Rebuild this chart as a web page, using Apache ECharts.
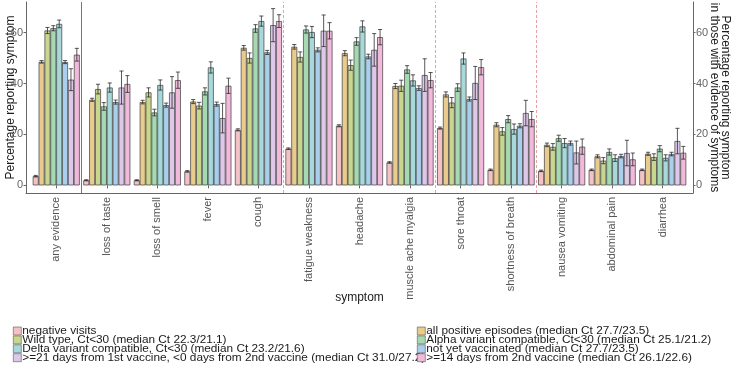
<!DOCTYPE html>
<html>
<head>
<meta charset="utf-8">
<script src="https://cdn.jsdelivr.net/npm/echarts@6/dist/echarts.min.js"></script>
<style>
  html, body { margin: 0; padding: 0; background: #fff; }
  #chart { width: 731px; height: 365px; }
</style>
</head>
<body>
<div id="chart"></div>
<script>
// 症状类别
const categories = ['any evidence', 'loss of taste', 'loss of smell', 'fever', 'cough',
  'fatigue weakness', 'headache', 'muscle ache myalgia', 'sore throat',
  'shortness of breath', 'nausea vomiting', 'abdominal pain', 'diarrhea']

// 图例名称（柱子从左到右的顺序）
const groupNames = [
  'negative visits',
  'all positive episodes (median Ct 27.7/23.5)',
  'Wild type, Ct<30 (median Ct 22.3/21.1)',
  'Alpha variant compatible, Ct<30 (median Ct 25.1/21.2)',
  'Delta variant compatible, Ct<30 (median Ct 23.2/21.6)',
  'not yet vaccinated (median Ct 27.7/23.5)',
  '>=21 days from 1st vaccine, <0 days from 2nd vaccine (median Ct 31.0/27.2)',
  '>=14 days from 2nd vaccine (median Ct 26.1/22.6)'
]

// 百分比数据
const negativeVisits = [3.6, 2.0, 2.0, 5.5, 21.8, 14.4, 23.4, 9.0, 22.5, 6.1, 5.7, 6.1, 6.1]
const allPositive = [48.5, 33.6, 32.7, 32.9, 54.0, 54.4, 51.9, 39.0, 35.7, 23.8, 15.9, 11.4, 12.4]
const wildType = [60.8, 37.8, 36.5, 31.3, 50.0, 50.4, 47.2, 39.1, 32.5, 21.2, 15.1, 9.7, 11.1]
const alphaVariant = [61.7, 31.0, 28.6, 36.9, 61.6, 61.2, 56.5, 45.5, 38.4, 26.0, 18.5, 13.1, 14.4]
const deltaVariant = [63.4, 38.4, 39.4, 46.3, 64.5, 60.2, 62.4, 41.2, 49.8, 22.1, 16.6, 10.7, 10.8]
const notVaccinated = [48.4, 32.7, 31.5, 31.9, 52.2, 53.2, 50.6, 38.2, 33.9, 23.4, 16.6, 11.5, 12.3]
const firstDose = [41.5, 38.4, 36.5, 26.4, 62.9, 60.7, 53.2, 43.3, 40.2, 28.4, 12.9, 12.7, 17.4]
const secondDose = [51.3, 39.8, 41.3, 39.1, 64.5, 60.7, 58.2, 41.3, 46.4, 26.0, 15.2, 10.2, 12.8]

// 误差棒半宽
const negativeErr = [0.3, 0.2, 0.2, 0.3, 0.4, 0.3, 0.4, 0.3, 0.4, 0.3, 0.3, 0.3, 0.3]
const allPositiveErr = [0.5, 0.6, 0.7, 0.8, 0.9, 0.9, 1.0, 1.0, 1.0, 0.8, 0.7, 0.6, 0.6]
const wildTypeErr = [1.2, 1.9, 1.8, 1.3, 2.0, 2.0, 2.0, 2.2, 2.0, 1.5, 1.3, 1.2, 1.3]
const alphaErr = [1.0, 1.5, 1.3, 1.4, 1.5, 1.4, 1.5, 1.5, 1.5, 1.4, 1.2, 1.2, 1.2]
const deltaErr = [1.5, 1.8, 2.0, 2.2, 2.0, 2.2, 2.2, 2.2, 2.2, 2.0, 1.8, 1.3, 1.2]
const notVaccinatedErr = [0.6, 0.8, 0.8, 0.8, 0.8, 0.8, 0.9, 0.9, 0.8, 0.8, 0.8, 0.7, 0.7]
const firstDoseErr = [4.3, 6.5, 6.2, 5.8, 6.5, 6.2, 6.4, 6.4, 6.5, 5.0, 4.5, 5.0, 5.0]
const secondDoseErr = [2.5, 3.3, 3.2, 3.0, 2.5, 3.2, 3.0, 3.0, 3.0, 3.0, 3.0, 2.5, 2.5]

// y 轴刻度
const yTicks = [0, 20, 40, 60]

const values = [negativeVisits, allPositive, wildType, alphaVariant, deltaVariant, notVaccinated, firstDose, secondDose]
const errs = [negativeErr, allPositiveErr, wildTypeErr, alphaErr, deltaErr, notVaccinatedErr, firstDoseErr, secondDoseErr]
const colors = ['#F4C1C5', '#E9CB8D', '#C9D78E', '#A5D9B2', '#A7D9DB', '#A9CFED', '#DDC8EA', '#F1B9DA']

const FONT = "'Liberation Sans', Arial, sans-serif"
const GAP = 0.07 // 类别内柱子之间的空隙比例

const chart = echarts.init(document.getElementById('chart'), null, { renderer: 'canvas' })

// 柱子
const barSeries = groupNames.map((name, s) => ({
  name: name,
  type: 'bar',
  xAxisIndex: 0,
  yAxisIndex: 0,
  barGap: 0,
  barCategoryGap: GAP * 100 + '%',
  itemStyle: { color: colors[s], borderColor: '#3c3c3c', borderWidth: 0.7 },
  data: values[s]
}))

// 误差棒
const errSeries = groupNames.map((name, s) => ({
  type: 'custom',
  xAxisIndex: 0,
  yAxisIndex: 0,
  silent: true,
  z: 5,
  encode: { x: 0, y: [1, 2] },
  data: values[s].map((v, i) => [i, v - errs[s][i], v + errs[s][i]]),
  renderItem: function (params, api) {
    const band = api.size([1, 0])[0]
    const bw = band * (1 - GAP) / 8
    const cx = api.coord([api.value(0), 0])[0] - band * (1 - GAP) / 2 + bw * (s + 0.5)
    const lo = api.coord([api.value(0), api.value(1)])[1]
    const hi = api.coord([api.value(0), api.value(2)])[1]
    const cap = bw * 0.35
    const style = { stroke: 'rgba(35,35,35,0.85)', lineWidth: 0.9 }
    return {
      type: 'group',
      children: [
        { type: 'line', shape: { x1: cx, y1: lo, x2: cx, y2: hi }, style: style },
        { type: 'line', shape: { x1: cx - cap, y1: lo, x2: cx + cap, y2: lo }, style: style },
        { type: 'line', shape: { x1: cx - cap, y1: hi, x2: cx + cap, y2: hi }, style: style }
      ]
    }
  }
}))

const legendBase = {
  orient: 'vertical',
  top: 325,
  height: 80,
  padding: 0,
  icon: 'rect',
  itemWidth: 8,
  itemHeight: 8,
  itemGap: -3.1,
  itemStyle: { borderColor: '#555', borderWidth: 0.6 },
  textStyle: { fontFamily: FONT, fontSize: 11.8, color: '#1a1a1a', lineHeight: 8, padding: [0, 0, 0, -4] },
  selectedMode: false
}

const yAxisBase = {
  type: 'value',
  gridIndex: 1,
  min: -3,
  max: 72,
  splitLine: { show: false },
  axisLine: { show: true, onZero: false, lineStyle: { color: '#666', width: 1 } },
  axisTick: { show: true, length: 2.5, customValues: yTicks, lineStyle: { color: '#666' } },
  axisLabel: { customValues: yTicks, color: '#666', fontFamily: FONT, fontSize: 11, margin: 3 },
  nameLocation: 'middle',
  nameMoveOverlap: false,
  nameTextStyle: { fontFamily: FONT, fontSize: 12, color: '#1a1a1a', lineHeight: 11 }
}

const option = {
  animation: false,
  backgroundColor: '#fff',
  grid: [
    // 柱子所在区域
    { left: 31, right: 43, top: 2, bottom: 172, outerBoundsMode: 'none' },
    // 坐标轴外框
    { left: 26, right: 38, top: 2, bottom: 172, outerBoundsMode: 'none' }
  ],
  legend: [
    Object.assign({}, legendBase, { left: 13, data: [groupNames[0], groupNames[2], groupNames[4], groupNames[6]] }),
    Object.assign({}, legendBase, { left: 417, data: [groupNames[1], groupNames[3], groupNames[5], groupNames[7]] })
  ],
  xAxis: [
    {
      type: 'category',
      gridIndex: 0,
      data: categories,
      name: 'symptom',
      nameLocation: 'middle',
      nameGap: 99,
      nameMoveOverlap: false,
      nameTextStyle: { fontFamily: FONT, fontSize: 12, color: '#1a1a1a' },
      axisLine: { show: false },
      axisTick: { show: true, alignWithLabel: true, length: 3, lineStyle: { color: '#666' } },
      axisLabel: { rotate: 90, interval: 0, margin: 4, color: '#555', fontFamily: FONT, fontSize: 11 }
    },
    {
      type: 'value',
      gridIndex: 1,
      min: -0.6,
      max: 12.6,
      axisLine: { show: true, onZero: false, lineStyle: { color: '#666', width: 1 } },
      axisTick: { show: false },
      axisLabel: { show: false },
      splitLine: { show: false }
    }
  ],
  yAxis: [
    { type: 'value', gridIndex: 0, min: -3, max: 72, show: false },
    Object.assign({}, yAxisBase, {
      position: 'left',
      name: 'Percentage reporting symptom',
      nameRotate: 90,
      nameGap: 10
    }),
    Object.assign({}, yAxisBase, {
      position: 'right',
      name: 'Percentage reporting symptom\nin those with evidence of symptoms',
      nameRotate: -90,
      nameGap: 16
    })
  ],
  series: barSeries.concat(errSeries).concat([
    {
      // 分隔线
      type: 'line',
      xAxisIndex: 1,
      yAxisIndex: 1,
      data: [],
      markLine: {
        silent: true,
        symbol: 'none',
        label: { show: false },
        data: [
          { xAxis: 0.5, lineStyle: { type: 'solid', color: '#777', width: 1 } },
          { xAxis: 4.5, lineStyle: { type: [3, 2], color: '#E58C8C', width: 0.8 } },
          { xAxis: 7.5, lineStyle: { type: [3, 2], color: '#E58C8C', width: 0.8 } },
          { xAxis: 9.5, lineStyle: { type: [3, 2], color: '#E58C8C', width: 0.8 } }
        ]
      }
    }
  ])
}

chart.setOption(option)
</script>
</body>
</html>
